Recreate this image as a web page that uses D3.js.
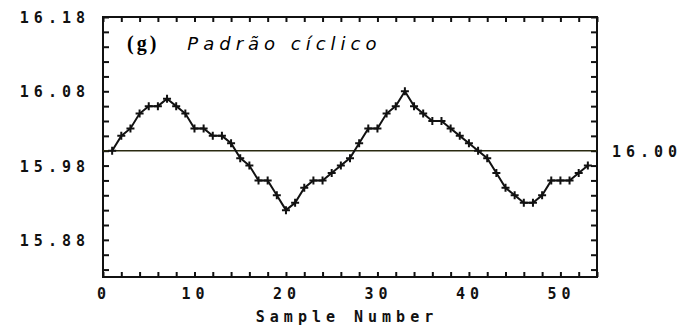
<!DOCTYPE html>
<html>
<head>
<meta charset="utf-8">
<script src="https://cdn.jsdelivr.net/npm/d3@7"></script>
<style>
  body { margin: 0; background: #fff; }
  .lbl { font-family: "DejaVu Sans Mono", monospace; font-weight: bold; font-size: 15px; letter-spacing: 5px; fill: #111; }
</style>
</head>
<body>
<div id="chart"></div>
<script>
// sample numbers and measured values
var samples = d3.range(1, 54);
var values = [16.00, 16.02, 16.03, 16.05, 16.06, 16.06, 16.07, 16.06, 16.05, 16.03,
              16.03, 16.02, 16.02, 16.01, 15.99, 15.98, 15.96, 15.96, 15.94, 15.92,
              15.93, 15.95, 15.96, 15.96, 15.97, 15.98, 15.99, 16.01, 16.03, 16.03,
              16.05, 16.06, 16.08, 16.06, 16.05, 16.04, 16.04, 16.03, 16.02, 16.01,
              16.00, 15.99, 15.97, 15.95, 15.94, 15.93, 15.93, 15.94, 15.96, 15.96,
              15.96, 15.97, 15.98];
var centerValue = 16.00;
var yLabels = [15.88, 15.98, 16.08, 16.18];
var yMinor = d3.range(15.84, 16.19, 0.02);
var xLabels = [0, 10, 20, 30, 40, 50];
var xMinor = d3.range(0, 55, 2);

var width = 688, height = 326;
var svg = d3.select("#chart").append("svg")
    .attr("width", width)
    .attr("height", height);

var x = d3.scaleLinear().domain([0, 54]).range([103, 597]);
var y = d3.scaleLinear().domain([15.83, 16.18]).range([277, 17]);

// minor ticks, pointing inward on all four sides
svg.append("g")
    .attr("transform", "translate(103,0)")
    .call(d3.axisRight(y).tickValues(yMinor).tickSize(6).tickFormat(""))
    .call(g => g.select(".domain").remove());
svg.append("g")
    .attr("transform", "translate(597,0)")
    .call(d3.axisLeft(y).tickValues(yMinor).tickSize(6).tickFormat(""))
    .call(g => g.select(".domain").remove());
svg.append("g")
    .attr("transform", "translate(0,277)")
    .call(d3.axisTop(x).tickValues(xMinor).tickSize(5).tickFormat(""))
    .call(g => g.select(".domain").remove());
svg.append("g")
    .attr("transform", "translate(0,17)")
    .call(d3.axisBottom(x).tickValues(xMinor).tickSize(5).tickFormat(""))
    .call(g => g.select(".domain").remove());
svg.selectAll(".tick line").attr("stroke", "#111").attr("stroke-width", 2);

// frame
svg.append("rect")
    .attr("x", 103).attr("y", 17)
    .attr("width", 494).attr("height", 260)
    .attr("fill", "none").attr("stroke", "#111").attr("stroke-width", 2);

// tick labels
svg.selectAll(".ylab").data(yLabels).enter().append("text")
    .attr("class", "lbl")
    .attr("x", 90)
    .attr("y", d => y(d) + 6)
    .attr("text-anchor", "end")
    .text(d => d.toFixed(2));

svg.selectAll(".xlab").data(xLabels).enter().append("text")
    .attr("class", "lbl")
    .attr("x", d => x(d) + 1)
    .attr("y", 299)
    .attr("text-anchor", "middle")
    .text(d => d);

svg.append("text")
    .attr("class", "lbl")
    .attr("x", 347).attr("y", 322)
    .attr("text-anchor", "middle")
    .attr("letter-spacing", "7px")
    .text("Sample Number");

// center line
svg.append("line")
    .attr("x1", x(0)).attr("x2", x(54))
    .attr("y1", y(centerValue)).attr("y2", y(centerValue))
    .attr("stroke", "#2a2a10").attr("stroke-width", 1.5);

svg.append("text")
    .attr("class", "lbl")
    .attr("x", 612)
    .attr("y", y(centerValue) + 6)
    .text(centerValue.toFixed(2));

// title
var title = svg.append("text").attr("x", 127).attr("y", 50);
title.append("tspan")
    .attr("font-family", "Liberation Serif, serif")
    .attr("font-weight", "bold")
    .attr("font-size", 20)
    .attr("letter-spacing", "3px")
    .text("(g)");
title.append("tspan")
    .attr("dx", 28)
    .attr("font-family", "DejaVu Sans, sans-serif")
    .attr("font-style", "italic")
    .attr("font-weight", "200")
    .attr("font-size", 18)
    .attr("letter-spacing", "5px")
    .text("Padrão cíclico");

// series line and + markers
var pts = samples.map((s, i) => [s, values[i]]);
svg.append("path")
    .datum(pts)
    .attr("fill", "none")
    .attr("stroke", "#111")
    .attr("stroke-width", 2)
    .attr("d", d3.line().x(d => x(d[0])).y(d => y(d[1])));

svg.selectAll(".mk").data(pts).enter().append("path")
    .attr("class", "mk")
    .attr("transform", d => "translate(" + x(d[0]) + "," + y(d[1]) + ")")
    .attr("d", "M-4,0H4M0,-4V4")
    .attr("stroke", "#111")
    .attr("stroke-width", 2);
</script>
</body>
</html>
